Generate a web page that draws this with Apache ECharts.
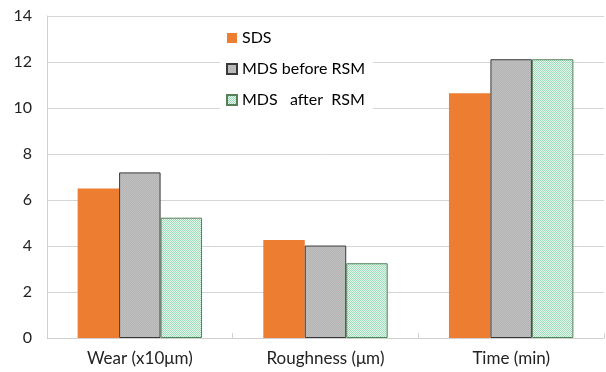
<!DOCTYPE html>
<html>
<head>
<meta charset="utf-8">
<script src="https://cdn.jsdelivr.net/npm/echarts@6/dist/echarts.min.js"></script>
<style>
  html, body { margin: 0; padding: 0; background: #fff; }
  #chart { width: 606px; height: 372px; }
</style>
</head>
<body>
<div id="chart"></div>
<script>
const categories = ['Wear (x10\u03bcm)', 'Roughness (\u03bcm)', 'Time (min)'];
const seriesNames = ['SDS', 'MDS before RSM', 'MDS   after  RSM'];
const sdsValues = [6.5, 4.26, 10.64];
const mdsBeforeValues = [7.2, 4.02, 12.12];
const mdsAfterValues = [5.23, 3.25, 12.12];
const yTicks = { min: 0, max: 14, interval: 2 };

// small repeating canvas tiles to mimic the dotted fills
function makePattern(c1, c2) {
  const cv = document.createElement('canvas');
  cv.width = 2; cv.height = 2;
  const ctx = cv.getContext('2d');
  ctx.fillStyle = c1; ctx.fillRect(0, 0, 2, 2);
  ctx.fillStyle = c2; ctx.fillRect(0, 0, 1, 1); ctx.fillRect(1, 1, 1, 1);
  return { image: cv, repeat: 'repeat' };
}
const grayFill = makePattern('#b4b4b4', '#c0c0c0');
const greenFill = makePattern('#e6f7ee', '#9ddbbb');

const font = 'Lato';
const chart = echarts.init(document.getElementById('chart'));
chart.setOption({
  animation: false,
  backgroundColor: '#fff',
  grid: { left: 47, right: 2, top: 16, bottom: 34 },
  legend: {
    orient: 'vertical',
    left: 220,
    top: 24,
    backgroundColor: '#fff',
    padding: [6, 8, 4, 6],
    itemGap: 15,
    itemWidth: 10,
    itemHeight: 10,
    icon: 'rect',
    textStyle: { fontFamily: font, fontSize: 16, color: '#000' },
    data: seriesNames
  },
  xAxis: {
    type: 'category',
    data: categories,
    axisLine: { lineStyle: { color: '#d0d0d0' } },
    axisTick: { show: true, inside: true, length: 5, lineStyle: { color: '#d0d0d0' } },
    axisLabel: { fontFamily: font, fontSize: 17, color: '#222', margin: 12 }
  },
  yAxis: {
    type: 'value',
    min: yTicks.min, max: yTicks.max, interval: yTicks.interval,
    axisLine: { show: true, lineStyle: { color: '#d0d0d0' } },
    axisTick: { show: false },
    splitLine: { lineStyle: { color: '#d6d6d6' } },
    axisLabel: { fontFamily: font, fontSize: 16, color: '#222', margin: 15 }
  },
  series: [
    {
      name: seriesNames[0], type: 'bar', data: sdsValues,
      barGap: '0%', barCategoryGap: '33%',
      itemStyle: { color: '#ed7d31' }
    },
    {
      name: seriesNames[1], type: 'bar', data: mdsBeforeValues,
      barGap: '0%', barCategoryGap: '33%',
      itemStyle: { color: grayFill, borderColor: '#3a3a3a', borderWidth: 1 }
    },
    {
      name: seriesNames[2], type: 'bar', data: mdsAfterValues,
      barGap: '0%', barCategoryGap: '33%',
      itemStyle: { color: greenFill, borderColor: '#55805a', borderWidth: 1 }
    }
  ]
});
</script>
</body>
</html>
